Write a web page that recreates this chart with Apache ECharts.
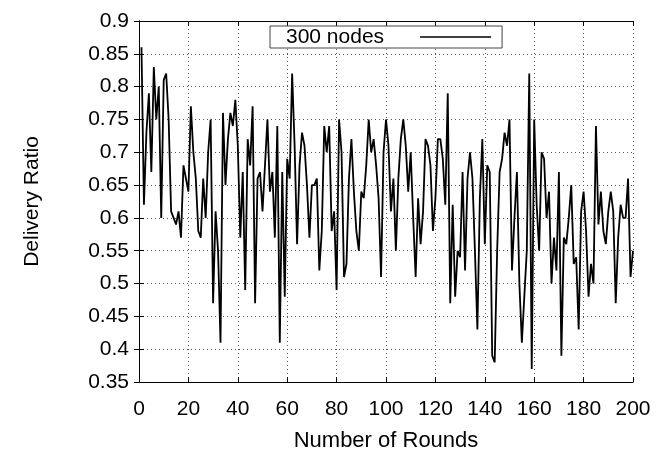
<!DOCTYPE html>
<html>
<head>
<meta charset="utf-8">
<script src="https://cdn.jsdelivr.net/npm/echarts@6/dist/echarts.min.js"></script>
<style>
  html, body { margin: 0; padding: 0; background: #fff; }
  #chart { width: 657px; height: 457px; }
</style>
</head>
<body>
<div id="chart"></div>
<script>
// ========================================
// 数据
// ========================================
const seriesName = '300 nodes';

// 每轮的投递率, 第 1 轮到第 200 轮
const ratio1to50 = [
  0.86, 0.62, 0.73, 0.79, 0.67, 0.83, 0.75, 0.80, 0.60, 0.81,
  0.82, 0.75, 0.61, 0.60, 0.59, 0.61, 0.57, 0.68, 0.66, 0.64,
  0.77, 0.70, 0.66, 0.58, 0.57, 0.66, 0.60, 0.70, 0.75, 0.47,
  0.61, 0.55, 0.41, 0.76, 0.65, 0.72, 0.76, 0.74, 0.78, 0.71,
  0.57, 0.67, 0.49, 0.72, 0.68, 0.77, 0.47, 0.66, 0.67, 0.61
];
const ratio51to100 = [
  0.68, 0.75, 0.64, 0.67, 0.57, 0.74, 0.41, 0.67, 0.48, 0.69,
  0.66, 0.82, 0.71, 0.56, 0.68, 0.73, 0.71, 0.65, 0.57, 0.65,
  0.65, 0.66, 0.52, 0.58, 0.74, 0.70, 0.74, 0.58, 0.61, 0.49,
  0.75, 0.70, 0.51, 0.53, 0.66, 0.72, 0.64, 0.58, 0.55, 0.64,
  0.63, 0.68, 0.75, 0.70, 0.72, 0.68, 0.63, 0.51, 0.70, 0.75
];
const ratio101to150 = [
  0.71, 0.61, 0.66, 0.55, 0.66, 0.72, 0.75, 0.71, 0.64, 0.70,
  0.60, 0.51, 0.63, 0.56, 0.61, 0.72, 0.71, 0.68, 0.58, 0.63,
  0.72, 0.72, 0.69, 0.62, 0.79, 0.47, 0.62, 0.48, 0.55, 0.54,
  0.67, 0.52, 0.66, 0.70, 0.66, 0.55, 0.43, 0.63, 0.72, 0.56,
  0.68, 0.67, 0.39, 0.38, 0.55, 0.67, 0.69, 0.73, 0.71, 0.75
];
const ratio151to200 = [
  0.52, 0.60, 0.67, 0.50, 0.41, 0.48, 0.55, 0.82, 0.37, 0.75,
  0.62, 0.55, 0.70, 0.69, 0.60, 0.64, 0.50, 0.57, 0.52, 0.67,
  0.39, 0.57, 0.56, 0.60, 0.65, 0.53, 0.54, 0.43, 0.61, 0.64,
  0.58, 0.48, 0.53, 0.50, 0.74, 0.59, 0.64, 0.58, 0.56, 0.61,
  0.64, 0.61, 0.47, 0.57, 0.62, 0.60, 0.60, 0.66, 0.51, 0.55
];

const deliveryRatio = ratio1to50.concat(ratio51to100, ratio101to150, ratio151to200);
const firstRound = 1;

// 坐标轴范围
const xMin = 0, xMax = 200, xStep = 20;
const yMin = 0.35, yMax = 0.9, yStep = 0.05;

// ========================================
// 图表
// ========================================
const FONT = 'Liberation Sans, Arial, sans-serif';
const FS = 21;

const chart = echarts.init(document.getElementById('chart'));

const points = deliveryRatio.map((v, i) => [firstRound + i, v]);

const gridDotted = { show: true, lineStyle: { color: '#555', type: [1, 3], width: 1 } };
const frameLine = { show: true, lineStyle: { color: '#000', width: 1 } };
const tickIn = { show: true, inside: true, length: 5, lineStyle: { color: '#000' } };

const option = {
  animation: false,
  backgroundColor: '#fff',
  textStyle: { fontFamily: FONT },
  grid: { left: 139, right: 24, top: 21, bottom: 73 },
  legend: {
    data: [seriesName],
    left: 270,
    top: 26,
    icon: 'rect',
    itemWidth: 71,
    itemHeight: 1.5,
    align: 'right',
    padding: [0, 11, 0, 16],
    backgroundColor: '#fff',
    borderColor: '#444',
    borderWidth: 1,
    textStyle: { fontFamily: FONT, fontSize: FS, color: '#000', lineHeight: 22, padding: [0, 31, 0, 0] }
  },
  xAxis: [
    {
      type: 'value', min: xMin, max: xMax, interval: xStep,
      name: 'Number of Rounds', nameLocation: 'middle', nameGap: 48,
      nameTextStyle: { fontFamily: FONT, fontSize: 22, color: '#000' },
      axisLine: frameLine, axisTick: tickIn,
      axisLabel: { fontFamily: FONT, fontSize: FS, color: '#000', margin: 17 },
      splitLine: gridDotted
    },
    {
      type: 'value', position: 'top', min: xMin, max: xMax, interval: xStep,
      axisLine: frameLine, axisTick: tickIn, axisLabel: { show: false }, splitLine: { show: false }
    }
  ],
  yAxis: [
    {
      type: 'value', min: yMin, max: yMax, interval: yStep,
      name: 'Delivery Ratio', nameLocation: 'middle', nameGap: 96, nameRotate: 90,
      nameTextStyle: { fontFamily: FONT, fontSize: FS, color: '#000' },
      axisLine: frameLine, axisTick: tickIn,
      axisLabel: { fontFamily: FONT, fontSize: FS, color: '#000', margin: 10 },
      splitLine: gridDotted
    },
    {
      type: 'value', position: 'right', min: yMin, max: yMax, interval: yStep,
      axisLine: frameLine, axisTick: tickIn, axisLabel: { show: false }, splitLine: { show: false }
    }
  ],
  series: [{
    name: seriesName,
    type: 'line',
    data: points,
    showSymbol: false,
    symbol: 'none',
    lineStyle: { color: '#000', width: 1.8 },
    itemStyle: { color: '#000' }
  }]
};

chart.setOption(option);
</script>
</body>
</html>
